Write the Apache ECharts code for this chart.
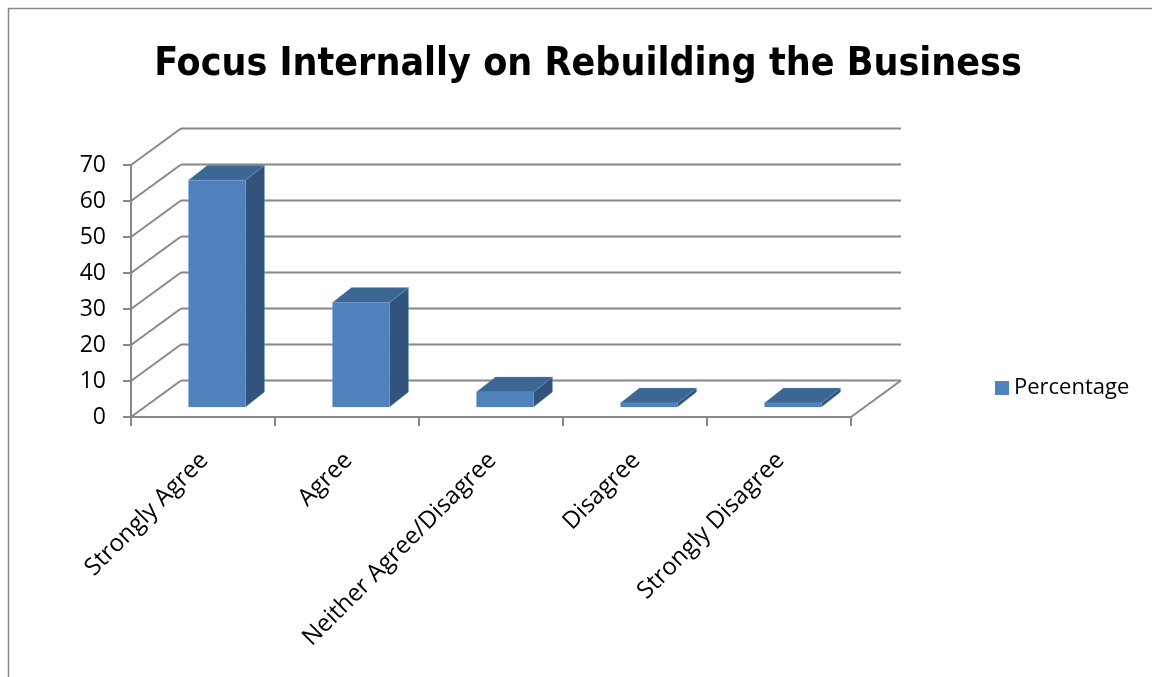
<!DOCTYPE html>
<html>
<head>
<meta charset="utf-8">
<script src="https://cdn.jsdelivr.net/npm/echarts@6/dist/echarts.min.js"></script>
<style>
html,body{margin:0;padding:0;background:#fff;}
#chart{width:1152px;height:677px;}
</style>
</head>
<body>
<div id="chart"></div>
<script>
var titleText = 'Focus Internally on Rebuilding the Business';
var seriesName = 'Percentage';
var categories = ['Strongly Agree', 'Agree', 'Neither Agree/Disagree', 'Disagree', 'Strongly Disagree'];
var values = [63, 29, 4.2, 1.1, 1.1];
var yTicks = [0, 10, 20, 30, 40, 50, 60, 70];

var WALL_DX = 50, WALL_DY = -36.5;     // back wall depth offset (px)
var BAR_FX = 14, BAR_FY = -10;         // bar front face depth offset
var BAR_DX = 19, BAR_DY = -15;         // bar depth
var GRID_COLOR = '#888888';
var FRONT = '#4F81BD', TOP = '#3C6694', SIDE = '#32537B';

var chart = echarts.init(document.getElementById('chart'), null, {renderer: 'canvas'});

function wallItem(params, api) {
  var cs = params.coordSys;
  var v = api.value(0);
  var p = api.coord([0, v]);
  var y = p[1];
  var x0 = cs.x, x1 = cs.x + cs.width;
  var children = [
    {type: 'line', shape: {x1: x0, y1: y, x2: x0 + WALL_DX, y2: y + WALL_DY},
     style: {stroke: GRID_COLOR, lineWidth: 2}},
    {type: 'line', shape: {x1: x0 + WALL_DX, y1: y + WALL_DY, x2: x1 + WALL_DX, y2: y + WALL_DY},
     style: {stroke: GRID_COLOR, lineWidth: 2}}
  ];
  if (v === 0) {
    children.push({type: 'line', shape: {x1: x1, y1: y, x2: x1 + WALL_DX, y2: y + WALL_DY},
      style: {stroke: GRID_COLOR, lineWidth: 2}});
  }
  return {type: 'group', children: children};
}

function barItem(params, api) {
  var i = api.value(0), v = api.value(1);
  var base = api.coord([i, 0]);
  var top = api.coord([i, v]);
  var bw = api.size([1, 0])[0] * 0.396;
  var xl = base[0] + BAR_FX - bw / 2, xr = xl + bw;
  var yb = base[1] + BAR_FY, yt = top[1] + BAR_FY;
  var edge = {stroke: 'rgba(120,160,210,0.5)', lineWidth: 0.6};
  return {type: 'group', children: [
    {type: 'polygon', shape: {points: [[xr, yb], [xr + BAR_DX, yb + BAR_DY], [xr + BAR_DX, yt + BAR_DY], [xr, yt]]},
     style: Object.assign({fill: SIDE}, edge)},
    {type: 'polygon', shape: {points: [[xl, yt], [xr, yt], [xr + BAR_DX, yt + BAR_DY], [xl + BAR_DX, yt + BAR_DY]]},
     style: Object.assign({fill: TOP}, edge)},
    {type: 'rect', shape: {x: xl, y: yt, width: bw, height: yb - yt},
     style: Object.assign({fill: FRONT}, edge)}
  ]};
}

var option = {
  backgroundColor: '#ffffff',
  animation: false,
  title: {
    text: titleText,
    left: 583, top: 40, textAlign: 'center',
    textStyle: {fontFamily: '"DejaVu Sans Condensed", "Liberation Sans", sans-serif',
      fontWeight: 'bold', fontSize: 39, color: '#000'}
  },
  legend: {
    data: [seriesName],
    left: 990, top: 372, orient: 'vertical',
    icon: 'rect', itemWidth: 14, itemHeight: 14, itemGap: 5,
    textStyle: {fontFamily: '"Open Sans", sans-serif', fontSize: 22, color: '#000'}
  },
  grid: {left: 131, right: 301, top: 165, bottom: 260, containLabel: false},
  xAxis: {
    type: 'category', data: categories, boundaryGap: true,
    axisLine: {show: true, lineStyle: {color: GRID_COLOR, width: 2}},
    axisTick: {show: true, length: 9, alignWithLabel: false, lineStyle: {color: GRID_COLOR, width: 2}},
    axisLabel: {rotate: 45, interval: 0, margin: 24, verticalAlign: 'top', align: 'right',
      padding: [0, 10, 0, 0],
      fontFamily: '"Open Sans", sans-serif', fontSize: 24, color: '#000'},
    splitLine: {show: false}
  },
  yAxis: {
    type: 'value', min: 0, max: 70, interval: 10,
    axisLine: {show: true, lineStyle: {color: GRID_COLOR, width: 2}},
    axisTick: {show: true, length: 8, lineStyle: {color: GRID_COLOR, width: 2}},
    axisLabel: {margin: 25, fontFamily: '"Open Sans", sans-serif', fontSize: 23, color: '#000'},
    splitLine: {show: false}
  },
  series: [
    {
      type: 'custom', name: 'walls', silent: true, z: 1,
      renderItem: wallItem,
      data: yTicks.map(function (t) { return [t]; }),
      encode: {y: 0}
    },
    {
      type: 'custom', name: seriesName, z: 5,
      itemStyle: {color: FRONT},
      renderItem: barItem,
      data: values.map(function (v, i) { return [i, v]; }),
      encode: {x: 0, y: 1}
    }
  ],
  graphic: [{
    type: 'rect', z: 0, silent: true,
    shape: {x: 8.5, y: 8.5, width: 1160, height: 700},
    style: {fill: 'none', stroke: '#888888', lineWidth: 1.5}
  }]
};
chart.setOption(option);
</script>
</body>
</html>
